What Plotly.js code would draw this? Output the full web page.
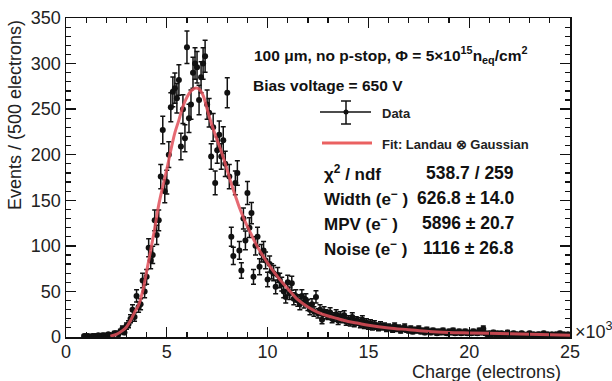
<!DOCTYPE html>
<html>
<head>
<meta charset="utf-8">
<script src="https://cdn.plot.ly/plotly-3.0.1.min.js"></script>
<style>html,body{margin:0;padding:0;background:#fff;}#chart{width:612px;height:381px;}</style>
</head>
<body>
<div id="chart"></div>
<script>
// Charge bin centres (x10^3 electrons)
const chargeK = [0.9,1.0,1.1,1.2,1.3,1.4,1.5,1.6,1.7,1.8,1.9,2.0,2.1,2.2,2.3,2.4,
2.5,2.6,2.7,2.8,2.9,3.0,3.1,3.2,3.3,3.4,
3.5,3.6,3.7,3.8,3.9,4.0,4.1,4.2,4.3,4.4,
4.5,4.6,4.7,4.8,4.9,5.0,5.1,5.2,5.3,5.4,
5.5,5.6,5.7,5.8,5.9,6.0,6.1,6.2,6.3,6.4,
6.5,6.6,6.7,6.8,6.9,7.0,7.1,7.2,7.3,7.4,
7.5,7.6,7.7,7.8,7.9,8.0,8.1,8.2,8.3,8.4,
8.5,8.6,8.7,8.8,8.9,9.0,9.1,9.2,9.3,9.4,
9.5,9.6,9.7,9.8,9.9,10.0,10.1,10.2,10.3,10.4,
10.5,10.6,10.7,10.8,10.9,11.0,11.1,11.2,11.3,11.4,
11.5,11.6,11.7,11.8,11.9,12.0,12.1,12.2,12.3,12.4,
12.5,12.6,12.7,12.8,12.9,13.0,13.1,13.2,13.3,13.4,
13.5,13.6,13.7,13.8,13.9,14.0,14.1,14.2,14.3,14.4,
14.5,14.6,14.7,14.8,14.9,15.0,15.1,15.2,15.3,15.4,
15.5,15.6,15.7,15.8,15.9,16.0,16.1,16.2,16.3,16.4,
16.5,16.6,16.7,16.8,16.9,17.0,17.1,17.2,17.3,17.4,
17.5,17.6,17.7,17.8,17.9,18.0,18.1,18.2,18.3,18.4,
18.5,18.6,18.7,18.8,18.9,19.0,19.1,19.2,19.3,19.4,
19.5,19.6,19.7,19.8,19.9,20.0,20.1,20.2,20.3,20.4,
20.5,20.6,20.7,20.8,20.9,21.0,21.1,21.2,21.3,21.4,
21.5,21.6,21.7,21.8,21.9,22.0,22.1,22.2,22.3,22.4,
22.5,22.6,22.7,22.8,22.9,23.0,23.1,23.2,23.3,23.4,
23.5,23.6,23.7,23.8,23.9,24.0,24.1,24.2,24.3,24.4,
24.5,24.6,24.7,24.8,24.9,25.0];

// Events per bin
const events = [1,1,1,0,1,1,1,2,1,2,2,1,3,2,2,4,
4,3,6,9,5,12,14,20,30,22,
45,33,36,62,50,66,98,84,90,128,
112,128,176,227,160,170,200,252,269,273,
262,282,209,250,218,318,240,255,290,300,
296,260,285,300,308,255,246,198,230,169,
205,222,198,216,190,268,176,110,89,169,
180,95,73,130,106,158,120,136,66,100,
110,77,92,95,84,63,80,72,70,55,
68,62,58,50,44,60,48,59,42,45,
40,36,45,38,41,35,30,36,28,44,
26,30,19,28,25,24,27,20,22,25,
18,23,20,24,17,19,16,22,15,18,
17,14,19,13,16,12,15,11,14,12,
10,13,11,12,9,11,10,8,12,9,
10,7,9,11,8,7,9,6,8,7,
9,6,7,5,8,6,5,7,6,4,
6,5,7,5,4,6,5,7,4,5,
6,4,5,6,4,5,4,6,5,4,
7,5,9,4,3,4,3,5,3,4,
2,4,3,3,5,3,2,4,3,3,
2,4,3,2,3,4,2,3,2,3,
3,2,4,2,3,2,3,2,3,2,
4,2,3,2,3,2];

// Fit curve (Landau x Gaussian)
const fitX = [2.2,2.5,2.8,3.0,3.2,3.4,3.6,3.8,4.0,4.2,4.4,4.6,4.8,5.0,5.2,5.4,5.6,5.8,6.0,6.2,6.4,6.6,6.8,7.0,7.2,7.4,7.6,7.8,8.0,8.2,8.4,8.6,8.8,9.0,9.2,9.4,9.6,9.8,10.0,10.5,11.0,11.5,12.0,12.5,13.0,13.5,14.0,14.5,15.0,16,17,18,19,20,21,22,23,24,25];
const fitY = [1,3,7,11,18,27,35,50,72,95,119,145,165,184,205,224,238,253,263,270,273,272,265,250,235,222,210,197,183,168,155,142,131,121,112,103,95,88,81,66,53,41,33,27,23,20,17,15,13,10,8,6,5,4.5,4,3.5,3,2.5,2];

const xTickVals = [0,5,10,15,20,25];
const xTickText = ["0","5","10","15","20","25"];
const yTickVals = [0,50,100,150,200,250,300,350];

const statLabels = ["χ<sup>2</sup> / ndf","Width (e<sup>−</sup> )","MPV (e<sup>−</sup> )","Noise (e<sup>−</sup> )"];
const statValues = ["538.7 / 259","626.8 ± 14.0","5896 ± 20.7","1116 ± 26.8"];

const FONT = "Liberation Sans, Arial, Helvetica, sans-serif";
const L = 66, R = 570, T = 18, B = 337;
const px = v => (v - L) / (R - L);
const py = v => (B - v) / (B - T);

const data = [
  {
    x: chargeK, y: events, type: 'scatter', mode: 'markers',
    marker: {color: '#111', size: 6},
    error_y: {type: 'sqrt', visible: true, color: '#111', thickness: 1.5, width: 2.5},
    showlegend: false, hoverinfo: 'skip'
  },
  {
    x: fitX, y: fitY, type: 'scatter', mode: 'lines',
    line: {color: 'rgba(226,80,90,0.85)', width: 3, shape: 'spline', smoothing: 1.0},
    showlegend: false, hoverinfo: 'skip'
  },
  { // carrier for the mirrored (top/right) tick axes
    x: [], y: [], xaxis: 'x2', yaxis: 'y2', type: 'scatter', mode: 'markers',
    showlegend: false, hoverinfo: 'skip'
  }
];

const annotations = [
  {xref:'paper', yref:'paper', x: px(252), y: py(55), xanchor:'left', yanchor:'middle', showarrow:false,
   text:'<b>100 μm, no p-stop, Φ = 5×10<sup>15</sup>n<sub>eq</sub>/cm<sup>2</sup></b>', font:{family:FONT, size:15.5, color:'#111'}},
  {xref:'paper', yref:'paper', x: px(251), y: py(85), xanchor:'left', yanchor:'middle', showarrow:false,
   text:'<b>Bias voltage = 650 V</b>', font:{family:FONT, size:15.5, color:'#111'}},
  {xref:'paper', yref:'paper', x: px(380), y: py(113), xanchor:'left', yanchor:'middle', showarrow:false,
   text:'<b>Data</b>', font:{family:FONT, size:13, color:'#222'}},
  {xref:'paper', yref:'paper', x: px(380), y: py(144), xanchor:'left', yanchor:'middle', showarrow:false,
   text:'<b>Fit: Landau ⊗ Gaussian</b>', font:{family:FONT, size:13, color:'#222'}},
  {xref:'paper', yref:'paper', x: px(486), y: py(372), xanchor:'center', yanchor:'middle', showarrow:false,
   text:'Charge (electrons)', font:{family:FONT, size:18, color:'#222'}},
  {xref:'paper', yref:'paper', x: px(573), y: py(330), xanchor:'left', yanchor:'middle', showarrow:false,
   text:'×10<sup>3</sup>', font:{family:FONT, size:18, color:'#222'}},
  {xref:'paper', yref:'paper', x: px(15), y: py(115), xanchor:'center', yanchor:'middle', showarrow:false,
   textangle:-90, text:'Events / (500 electrons)', font:{family:FONT, size:18, color:'#222'}}
];
const statY = [173, 198, 223, 248];
for (let i = 0; i < statLabels.length; i++) {
  annotations.push({xref:'paper', yref:'paper', x: px(322), y: py(statY[i]), xanchor:'left', yanchor:'middle', showarrow:false,
    text:'<b>' + statLabels[i] + '</b>', font:{family:FONT, size:17, color:'#111'}});
  annotations.push({xref:'paper', yref:'paper', x: px(516), y: py(statY[i]), xanchor:'right', yanchor:'middle', showarrow:false,
    text:'<b>' + statValues[i] + '</b>', font:{family:FONT, size:17.5, color:'#111'}});
}

const shapes = [
  // Data legend glyph
  {type:'line', xref:'paper', yref:'paper', x0:px(320), x1:px(371), y0:py(112), y1:py(112), line:{color:'#111', width:1.5}},
  {type:'line', xref:'paper', yref:'paper', x0:px(346), x1:px(346), y0:py(101), y1:py(124), line:{color:'#111', width:1.5}},
  {type:'line', xref:'paper', yref:'paper', x0:px(341), x1:px(351), y0:py(101), y1:py(101), line:{color:'#111', width:1.5}},
  {type:'line', xref:'paper', yref:'paper', x0:px(341), x1:px(351), y0:py(124), y1:py(124), line:{color:'#111', width:1.5}},
  {type:'circle', xref:'paper', yref:'paper', x0:px(343.5), x1:px(348.5), y0:py(109.5), y1:py(114.5), fillcolor:'#111', line:{color:'#111', width:0}},
  // Fit legend glyph
  {type:'line', xref:'paper', yref:'paper', x0:px(322), x1:px(372), y0:py(143), y1:py(143), line:{color:'rgba(232,80,80,0.9)', width:3}}
];

const axisCommon = {
  showline: true, linecolor: '#111', linewidth: 1.5, mirror: true,
  ticks: 'inside', ticklen: 10, tickwidth: 1.3, tickcolor: '#111',
  showgrid: false, zeroline: false,
  tickfont: {family: FONT, size: 18, color: '#222'}
};
const xMinor = {dtick: 1, ticklen: 5, tickwidth: 1.2, tickcolor: '#111', ticks: 'inside'};
const yMinor = {dtick: 10, ticklen: 5, tickwidth: 1.2, tickcolor: '#111', ticks: 'inside'};

const layout = {
  width: 612, height: 381,
  margin: {l: L, r: 612 - R, t: T, b: 381 - B, pad: 0},
  paper_bgcolor: '#fff', plot_bgcolor: '#fff',
  showlegend: false,
  xaxis: Object.assign({}, axisCommon, {
    range: [0, 25], tickmode: 'array', tickvals: xTickVals, ticktext: xTickText,
    ticklabelstandoff: -2, minor: xMinor
  }),
  yaxis: Object.assign({}, axisCommon, {
    range: [0, 350], tickmode: 'array', tickvals: yTickVals, minor: yMinor
  }),
  xaxis2: {
    overlaying: 'x', side: 'top', anchor: 'y2', range: [0, 25], tickmode: 'array', tickvals: xTickVals,
    showticklabels: false, ticks: 'inside', ticklen: 10, tickwidth: 1.3, tickcolor: '#111',
    showline: false, showgrid: false, zeroline: false, minor: xMinor
  },
  yaxis2: {
    overlaying: 'y', side: 'right', anchor: 'x2', range: [0, 350], tickmode: 'array', tickvals: yTickVals,
    showticklabels: false, ticks: 'inside', ticklen: 10, tickwidth: 1.3, tickcolor: '#111',
    showline: false, showgrid: false, zeroline: false, minor: yMinor
  },
  annotations: annotations,
  shapes: shapes
};

Plotly.newPlot('chart', data, layout, {staticPlot: true, displayModeBar: false});
</script>
</body>
</html>
